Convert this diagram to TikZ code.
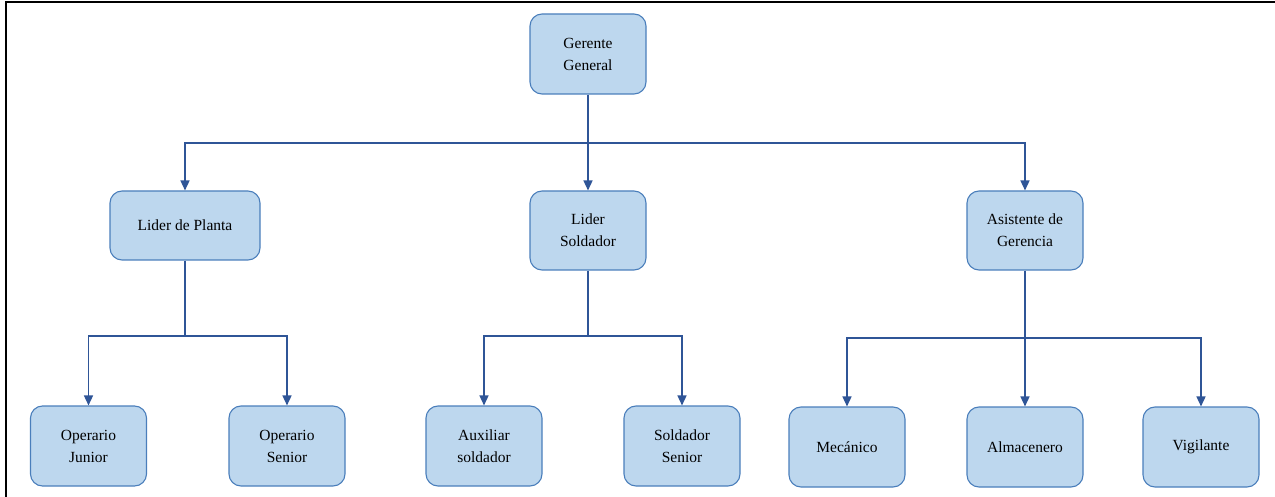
\documentclass[tikz,border=0pt]{standalone}
\usepackage{fontspec}
\setmainfont{Liberation Serif}
\usetikzlibrary{arrows.meta}
\begin{document}
\begin{tikzpicture}[x=1pt,y=-1pt,
  box/.style={draw=boxline, fill=boxfill, line width=1.1pt, rounded corners=12pt,
    inner sep=0pt, align=center, font=\fontsize{15.5}{22}\selectfont},
  conn/.style={draw=linecol, line width=1.5pt},
  arr/.style={conn, -{Triangle[length=10pt,width=9pt]}}]
\definecolor{boxfill}{HTML}{BDD7EE}
\definecolor{boxline}{HTML}{4A7EBB}
\definecolor{linecol}{HTML}{2F5597}
\useasboundingbox (0,0) rectangle (1275,497);
\draw[line width=2pt, black] (6,497) -- (6,2) -- (1275,2);
% top
\node[box, minimum width=116pt, minimum height=80pt] (gg) at (588,54) {Gerente\\General};
% middle
\node[box, minimum width=150pt, minimum height=69pt] (lp) at (185,225.5) {Lider de Planta};
\node[box, minimum width=116pt, minimum height=79pt] (ls) at (588,230.5) {Lider\\Soldador};
\node[box, minimum width=116pt, minimum height=79pt] (ag) at (1025,230.5) {Asistente de\\Gerencia};
% bottom
\node[box, minimum width=116pt, minimum height=80pt] (oj) at (88.5,446) {Operario\\Junior};
\node[box, minimum width=116pt, minimum height=80pt] (os) at (287,446) {Operario\\Senior};
\node[box, minimum width=116pt, minimum height=80pt] (as) at (484,446) {Auxiliar\\soldador};
\node[box, minimum width=116pt, minimum height=80pt] (ss) at (682,446) {Soldador\\Senior};
\node[box, minimum width=116pt, minimum height=80pt] (me) at (847,447) {Mecánico};
\node[box, minimum width=116pt, minimum height=80pt] (al) at (1025,447) {Almacenero};
\node[box, minimum width=116pt, minimum height=80pt] (vi) at (1201,447) {Vigilante};
% bus coordinates
\coordinate (b0) at (588,143);
\coordinate (b1) at (185,336);
\coordinate (b2) at (588,336);
\coordinate (b3) at (1025,338);
% connectors
\draw[conn] (gg.south) -- (b0);
\draw[arr] (b0) -| (lp.north);
\draw[arr] (b0) -- (ls.north);
\draw[arr] (b0) -| (ag.north);
\draw[conn] (lp.south) -- (b1);
\draw[arr] (b1) -| (oj.north);
\draw[arr] (b1) -| (os.north);
\draw[conn] (ls.south) -- (b2);
\draw[arr] (b2) -| (as.north);
\draw[arr] (b2) -| (ss.north);
\draw[conn] (ag.south) -- (b3);
\draw[arr] (b3) -| (me.north);
\draw[arr] (b3) -- (al.north);
\draw[arr] (b3) -| (vi.north);
\end{tikzpicture}
\end{document}
